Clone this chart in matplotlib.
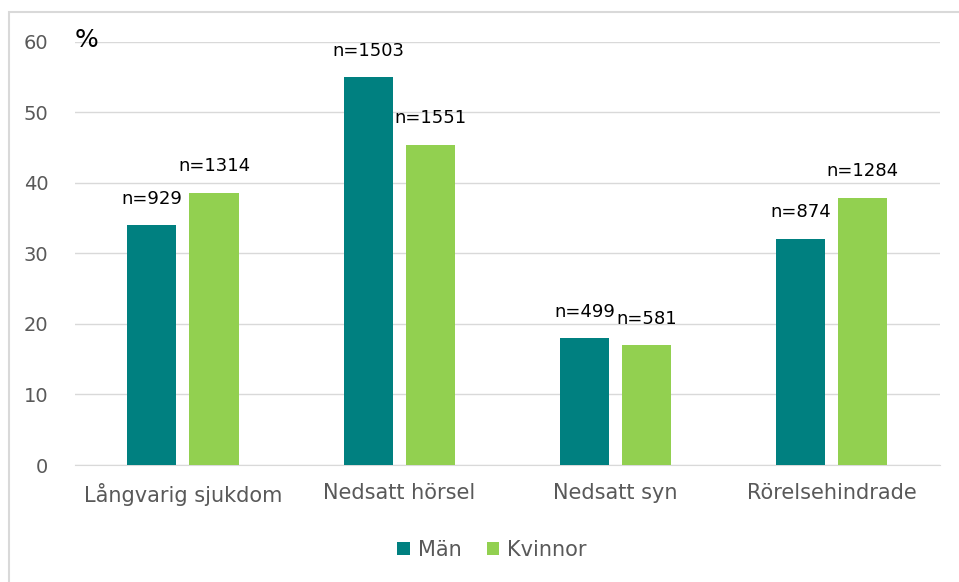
import numpy as np
import matplotlib
matplotlib.use("Agg")
from matplotlib import pyplot as plt
from matplotlib.patches import Rectangle
from matplotlib.transforms import blended_transform_factory

categories = ['Långvarig sjukdom', 'Nedsatt hörsel', 'Nedsatt syn', 'Rörelsehindrade']
man = [34.0, 55.0, 18.0, 32.1]
kvinnor = [38.6, 45.4, 17.0, 37.9]
n_man = [929, 1503, 499, 874]
n_kvinnor = [1314, 1551, 581, 1284]
yticks = [0, 10, 20, 30, 40, 50, 60]

teal = '#008080'
green = '#92D050'
grey_text = '#595959'

plt.rcParams['font.family'] = ['DejaVu Sans']

fig = plt.figure(figsize=(9.59, 5.82), dpi=100)
ax = fig.add_axes([0.078, 0.201, 0.902, 0.727])

# outer chart border (only top and left visible in the reference)
fig.patches.append(Rectangle((9 / 959, -0.01), 1.0, 1 - 11.5 / 582 + 0.01,
                             transform=fig.transFigure, fill=False,
                             edgecolor='#D9D9D9', linewidth=1.5))

x = np.arange(len(categories))
w = 0.227
off = 0.1435
b1 = ax.bar(x - off, man, w, color=teal, label='Män', zorder=3)
b2 = ax.bar(x + off, kvinnor, w, color=green, label='Kvinnor', zorder=3)

for bars, ns in ((b1, n_man), (b2, n_kvinnor)):
    for rect, n in zip(bars, ns):
        ax.annotate(f'n={n}', (rect.get_x() + rect.get_width() / 2, rect.get_height()),
                    xytext=(0, 19), textcoords='offset points',
                    ha='center', va='center', fontsize=13, color='black')

ax.set_xlim(-0.5, len(categories) - 0.5)
ax.set_ylim(0, 60)
ax.set_yticks(yticks)
ax.set_xticks(x)
ax.set_xticklabels(categories)
ax.yaxis.grid(True, color='#D9D9D9', linewidth=1, zorder=0)
ax.set_axisbelow(True)
for s in ['top', 'right', 'left']:
    ax.spines[s].set_visible(False)
ax.spines['bottom'].set_color('#D9D9D9')
ax.tick_params(axis='y', length=0, colors=grey_text, labelsize=14, pad=19)
ax.tick_params(axis='x', length=0, colors=grey_text, labelsize=15, pad=13)

trans = blended_transform_factory(ax.transAxes, ax.transData)
ax.text(0.0, 60.2, '%', transform=trans, fontsize=18, color='black',
        ha='left', va='center')

fig.legend(loc='center', bbox_to_anchor=(0.513, 1 - 550 / 582), ncol=2, frameon=False,
           fontsize=15, handlelength=0.6, handleheight=0.6, handletextpad=0.4,
           columnspacing=1.2, labelcolor=grey_text)

fig.savefig('out.png', dpi=100)
